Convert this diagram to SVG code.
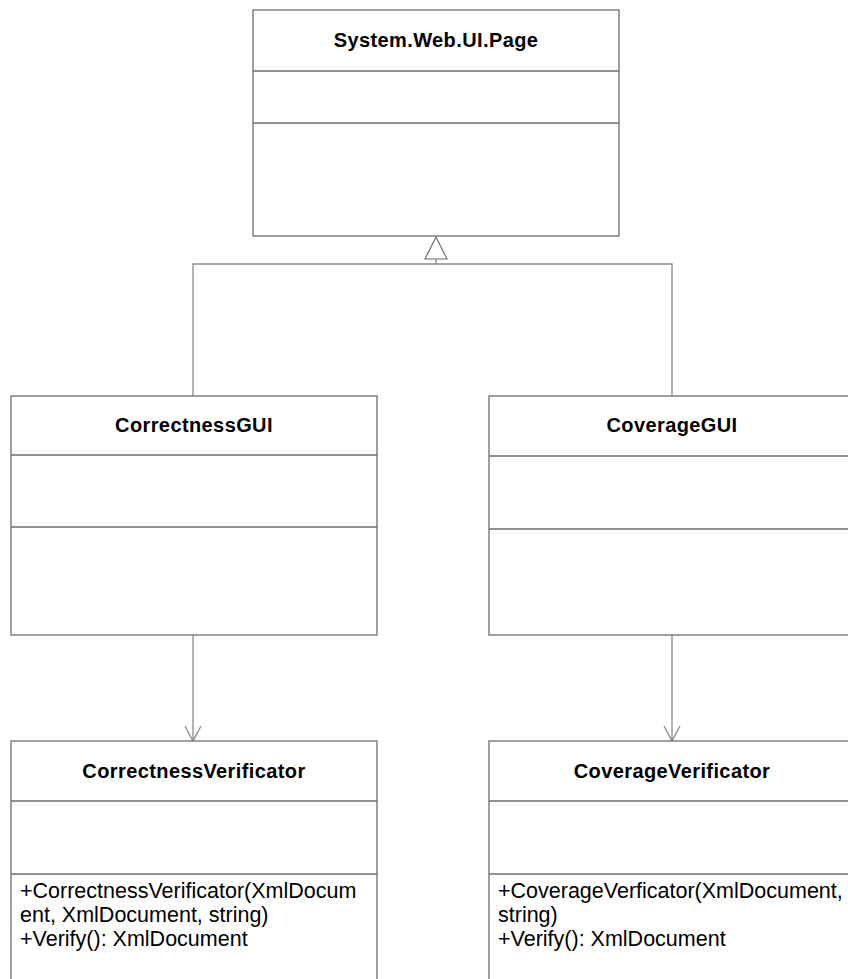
<svg xmlns="http://www.w3.org/2000/svg" width="848" height="979" viewBox="0 0 848 979">
  <style>
    .box { fill: #ffffff; stroke: #6e6e6e; stroke-width: 1.3; }
    .div { stroke: #6e6e6e; stroke-width: 1.3; fill: none; }
    .title { font-family: "Liberation Sans", Arial, sans-serif; font-weight: bold; font-size: 20px; letter-spacing: 0.4px; text-anchor: middle; fill: #000; }
    .member { font-family: "Liberation Sans", Arial, sans-serif; font-size: 21.5px; fill: #000; }
    .conn { stroke: #8a8a8a; stroke-width: 1.3; fill: none; }
  </style>
  <defs>
    <!-- open "V" arrowhead for navigable associations -->
    <marker id="openArrow" viewBox="0 0 20 20" refX="16" refY="10" markerWidth="20" markerHeight="20" markerUnits="userSpaceOnUse" orient="auto">
      <path d="M1,2 L16,10 L1,18" fill="none" stroke="#8a8a8a" stroke-width="1.3"/>
    </marker>
  </defs>
  <rect width="848" height="979" fill="#ffffff"/>

  <!-- connectors -->
  <g id="connectors">
    <!-- generalization tree -->
    <path class="conn" d="M193,396 V264 H672 V396"/>
    <path class="conn" d="M436,264 V259"/>
    <polygon points="436,237 425,259 447,259" fill="#ffffff" stroke="#6e6e6e" stroke-width="1.2"/>
    <!-- associations -->
    <line class="conn" x1="193" y1="635" x2="193" y2="741" marker-end="url(#openArrow)"/>
    <line class="conn" x1="672" y1="635" x2="672" y2="741" marker-end="url(#openArrow)"/>
  </g>

  <g id="page">
    <rect class="box" x="253" y="10" width="366" height="226"/>
    <line class="div" x1="253" y1="71" x2="619" y2="71"/>
    <line class="div" x1="253" y1="123" x2="619" y2="123"/>
    <text class="title" x="436" y="47">System.Web.UI.Page</text>
  </g>

  <g id="correctnessGUI">
    <rect class="box" x="11" y="396" width="366" height="239"/>
    <line class="div" x1="11" y1="455" x2="377" y2="455"/>
    <line class="div" x1="11" y1="527" x2="377" y2="527"/>
    <text class="title" x="194" y="432">CorrectnessGUI</text>
  </g>

  <g id="coverageGUI">
    <rect class="box" x="489" y="396" width="370" height="239"/>
    <line class="div" x1="489" y1="456" x2="848" y2="456"/>
    <line class="div" x1="489" y1="529" x2="848" y2="529"/>
    <text class="title" x="672" y="432">CoverageGUI</text>
  </g>

  <g id="correctnessVerificator">
    <rect class="box" x="11" y="741" width="366" height="260"/>
    <line class="div" x1="11" y1="801" x2="377" y2="801"/>
    <line class="div" x1="11" y1="874" x2="377" y2="874"/>
    <text class="title" x="194" y="778">CorrectnessVerificator</text>
    <text class="member" x="20" y="898">+CorrectnessVerificator(XmlDocum</text>
    <text class="member" x="20" y="922">ent, XmlDocument, string)</text>
    <text class="member" x="20" y="946">+Verify(): XmlDocument</text>
  </g>

  <g id="coverageVerificator">
    <rect class="box" x="489" y="741" width="370" height="260"/>
    <line class="div" x1="489" y1="801" x2="848" y2="801"/>
    <line class="div" x1="489" y1="874" x2="848" y2="874"/>
    <text class="title" x="672" y="778">CoverageVerificator</text>
    <text class="member" x="498" y="898">+CoverageVerficator(XmlDocument,</text>
    <text class="member" x="498" y="922">string)</text>
    <text class="member" x="498" y="946">+Verify(): XmlDocument</text>
  </g>
</svg>
